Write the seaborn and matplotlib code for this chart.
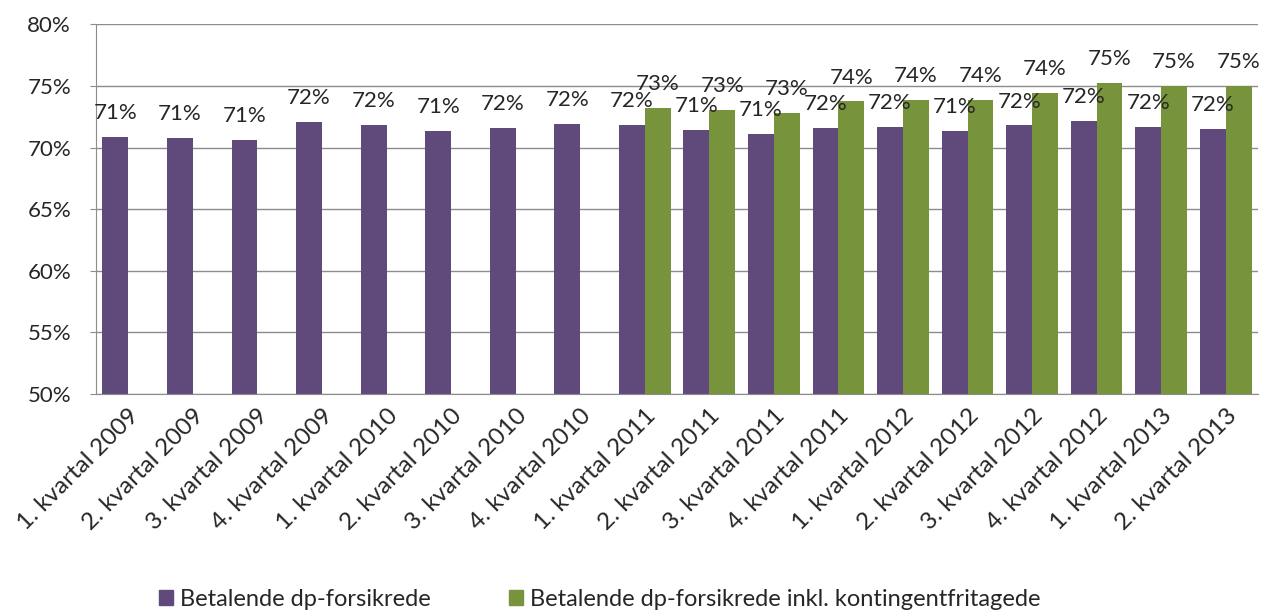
import numpy as np
import pandas as pd
import seaborn as sns
import matplotlib.pyplot as plt
from matplotlib.patches import Patch

kvartaler = ['1. kvartal 2009', '2. kvartal 2009', '3. kvartal 2009', '4. kvartal 2009',
             '1. kvartal 2010', '2. kvartal 2010', '3. kvartal 2010', '4. kvartal 2010',
             '1. kvartal 2011', '2. kvartal 2011', '3. kvartal 2011', '4. kvartal 2011',
             '1. kvartal 2012', '2. kvartal 2012', '3. kvartal 2012', '4. kvartal 2012',
             '1. kvartal 2013', '2. kvartal 2013']
betalende = [70.9, 70.8, 70.65, 72.05, 71.85, 71.35, 71.6, 71.95,
             71.85, 71.45, 71.1, 71.6, 71.65, 71.35, 71.8, 72.15, 71.7, 71.55]
inkl_fritagede = [np.nan] * 8 + [73.25, 73.05, 72.85, 73.75, 73.9, 73.9, 74.45, 75.25, 75.0, 75.0]
serier = ['Betalende dp-forsikrede', 'Betalende dp-forsikrede inkl. kontingentfritagede']
farver = ['#604A7B', '#77933C']

df = pd.DataFrame({
    'kvartal': kvartaler * 2,
    'andel': betalende + inkl_fritagede,
    'serie': [serier[0]] * len(kvartaler) + [serier[1]] * len(kvartaler),
})

sns.set_style('white')
plt.rcParams['font.family'] = ['Lato', 'DejaVu Sans']

fig = plt.figure(figsize=(12.65, 6.1), dpi=100)
ax = fig.add_axes([0.0759, 0.354, 0.9186, 0.606])

sns.barplot(data=df, x='kvartal', y='andel', hue='serie', hue_order=serier,
            palette=farver, order=kvartaler, linewidth=0, saturation=1,
            errorbar=None, legend=False, ax=ax)

for c in ax.containers:
    ax.bar_label(c, fmt='{:.0f}%', padding=10, fontsize=16)

ax.set_ylim(50, 80)
ax.set_yticks(np.arange(50, 81, 5))
ax.set_yticklabels([f'{v}%' for v in range(50, 81, 5)], fontsize=16)
ax.set_xticks(range(len(kvartaler)))
ax.set_xticklabels(kvartaler, rotation=45, ha='right', rotation_mode='anchor', fontsize=17.5)
ax.set_xlim(-0.5, len(kvartaler) - 0.5)
ax.set_xlabel('')
ax.set_ylabel('')
ax.yaxis.grid(True, color='#8C8C8C', linewidth=1)
ax.set_axisbelow(True)
for s in ['top', 'right']:
    ax.spines[s].set_visible(False)
for s in ['left', 'bottom']:
    ax.spines[s].set_color('#8C8C8C')
ax.tick_params(axis='y', left=True, length=4, color='#8C8C8C', pad=14)
ax.tick_params(axis='x', length=0, pad=8)

handles = [Patch(color=f) for f in farver]
fig.legend(handles, serier, loc='lower center', bbox_to_anchor=(0.474, -0.035), ncol=2,
           frameon=False, fontsize=17, handlelength=0.6, handleheight=0.6,
           handletextpad=0.3, columnspacing=3.3)

fig.savefig('out.png', dpi=100)
